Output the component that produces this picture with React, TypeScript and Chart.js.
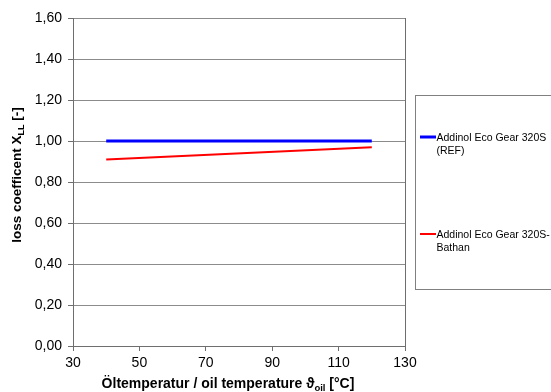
import React, { useEffect, useRef } from "react";
import { Chart, registerables } from "chart.js";

Chart.register(...registerables);

const temperatures = [40, 120];
const refValues = [1.0, 1.0];
const bathanValues = [0.91, 0.97];
const yTickValues = [0, 0.2, 0.4, 0.6, 0.8, 1.0, 1.2, 1.4, 1.6];
const xTickValues = [30, 50, 70, 90, 110, 130];
const seriesLabels = [
  ["Addinol Eco Gear 320S", "(REF)"],
  ["Addinol Eco Gear 320S-", "Bathan"],
];

const FONT = "'Liberation Sans', Arial, sans-serif";

type Part = { t: string; sub?: boolean };

function drawRich(ctx: CanvasRenderingContext2D, parts: Part[], size: number, subSize: number) {
  const widths = parts.map((p) => {
    ctx.font = `bold ${p.sub ? subSize : size}px ${FONT}`;
    return ctx.measureText(p.t).width;
  });
  const total = widths.reduce((a, b) => a + b, 0);
  let x = -total / 2;
  ctx.textBaseline = "alphabetic";
  ctx.textAlign = "left";
  parts.forEach((p, i) => {
    ctx.font = `bold ${p.sub ? subSize : size}px ${FONT}`;
    ctx.fillText(p.t, x, p.sub ? size * 0.35 + 3.5 : size * 0.35);
    x += widths[i];
  });
}

const decorPlugin = {
  id: "decor",
  afterDraw(chart: any) {
    const ctx: CanvasRenderingContext2D = chart.ctx;
    const a = chart.chartArea;
    ctx.save();
    // right border
    ctx.strokeStyle = "#6e6e6e";
    ctx.lineWidth = 1;
    ctx.beginPath();
    ctx.moveTo(Math.round(a.right) + 0.5, a.top);
    ctx.lineTo(Math.round(a.right) + 0.5, a.bottom + 5);
    ctx.stroke();

    // y title
    ctx.fillStyle = "#000";
    ctx.save();
    ctx.translate(16, 175);
    ctx.rotate(-Math.PI / 2);
    drawRich(ctx, [{ t: "loss coefficent X" }, { t: "LL", sub: true }, { t: " [-]" }], 13.5, 9);
    ctx.restore();

    // x title
    ctx.save();
    ctx.translate(228, 383);
    drawRich(
      ctx,
      [{ t: "Öltemperatur / oil temperature ϑ" }, { t: "oil", sub: true }, { t: " [°C]" }],
      14,
      9.5
    );
    ctx.restore();

    // legend box
    ctx.strokeStyle = "#808080";
    ctx.lineWidth = 1;
    ctx.strokeRect(415.5, 95.5, 200, 194);
    const rows = [137, 234];
    chart.data.datasets.forEach((ds: any, i: number) => {
      const y = rows[i];
      ctx.strokeStyle = ds.borderColor;
      ctx.lineWidth = ds.borderWidth;
      ctx.beginPath();
      ctx.moveTo(420, y);
      ctx.lineTo(436, y);
      ctx.stroke();
      ctx.fillStyle = "#000";
      ctx.font = `10.5px ${FONT}`;
      ctx.textAlign = "left";
      ctx.textBaseline = "middle";
      seriesLabels[i].forEach((line, j) => {
        ctx.fillText(line, 436.5, y + 1 + j * 13);
      });
    });
    ctx.restore();
  },
};

export default function App() {
  const ref = useRef<HTMLCanvasElement | null>(null);
  useEffect(() => {
    document.body.style.margin = "0";
    const canvas = ref.current!;
    const chart = new Chart(canvas, {
      type: "line",
      data: {
        datasets: [
          {
            label: seriesLabels[0].join(" "),
            data: temperatures.map((t, i) => ({ x: t, y: refValues[i] })),
            borderColor: "#0000ff",
            borderWidth: 3,
            pointRadius: 0,
            tension: 0,
          },
          {
            label: seriesLabels[1].join(" "),
            data: temperatures.map((t, i) => ({ x: t, y: bathanValues[i] })),
            borderColor: "#ff0000",
            borderWidth: 2,
            pointRadius: 0,
            tension: 0,
          },
        ],
      },
      options: {
        animation: false,
        responsive: false,
        devicePixelRatio: 1,
        layout: { padding: { top: 18, right: 146, left: 0, bottom: 0 } },
        plugins: { legend: { display: false }, tooltip: { enabled: false } },
        scales: {
          x: {
            type: "linear",
            min: 30,
            max: 130,
            afterBuildTicks: (s: any) => {
              s.ticks = xTickValues.map((v) => ({ value: v }));
            },
            afterFit: (s: any) => {
              s.height = 46;
            },
            grid: { drawOnChartArea: false, drawTicks: true, tickLength: 5, color: "#6e6e6e" },
            border: { color: "#6e6e6e" },
            ticks: {
              font: { family: FONT, size: 14 },
              color: "#000",
              padding: 4,
              maxRotation: 0,
            },
          },
          y: {
            type: "linear",
            min: 0,
            max: 1.6,
            afterBuildTicks: (s: any) => {
              s.ticks = yTickValues.map((v) => ({ value: v }));
            },
            afterFit: (s: any) => {
              s.width = 73;
            },
            grid: { color: "#8c8c8c", tickLength: 5, tickColor: "#6e6e6e" },
            border: { color: "#6e6e6e" },
            ticks: {
              font: { family: FONT, size: 14 },
              color: "#000",
              padding: 6,
              callback: (v: any) => Number(v).toFixed(2).replace(".", ","),
            },
          },
        },
      },
      plugins: [decorPlugin],
    } as any);
    return () => chart.destroy();
  }, []);
  return <canvas ref={ref} width={551} height={392} style={{ display: "block" }} />;
}
